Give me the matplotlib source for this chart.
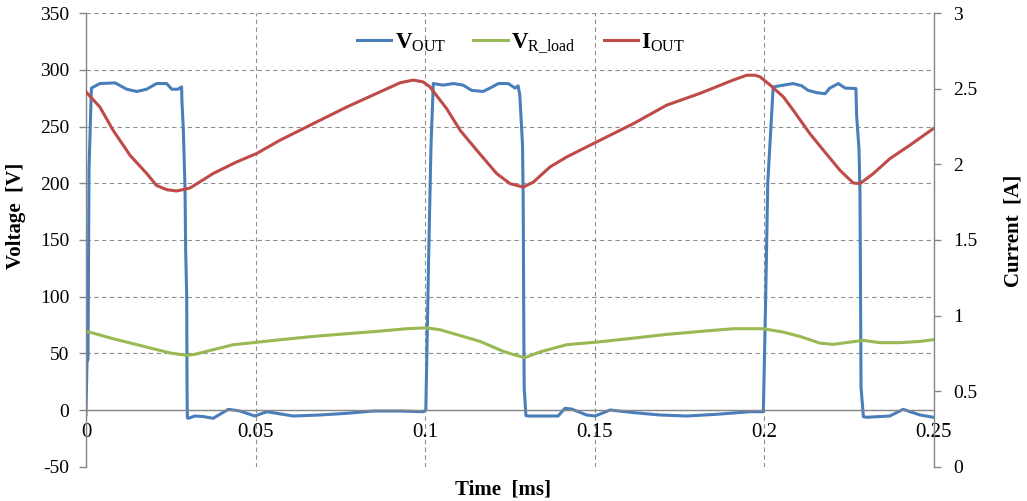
import matplotlib
matplotlib.use('Agg')
import matplotlib.pyplot as plt

# V_OUT trace (ms, V)
t_vout = [0, 0.0003, 0.0006, 0.0009, 0.0016, 0.0041, 0.0086, 0.0120, 0.0150, 0.0179,
          0.0208, 0.0238, 0.0253, 0.0271, 0.0282, 0.0283, 0.0287, 0.0292, 0.0294, 0.0297,
          0.0298, 0.0299, 0.0302, 0.0321, 0.0346, 0.0375, 0.0420, 0.0454, 0.0498, 0.0533,
          0.0611, 0.0690, 0.0769, 0.0847, 0.0926, 0.0994, 0.1002, 0.1010, 0.1017, 0.1024,
          0.1053, 0.1083, 0.1112, 0.1137, 0.1171, 0.1191, 0.1216, 0.1245, 0.1265, 0.1274,
          0.1279, 0.1287, 0.1289, 0.1291, 0.1292, 0.1294, 0.1297, 0.1304, 0.1392, 0.1412,
          0.1432, 0.1476, 0.1501, 0.1545, 0.1614, 0.1692, 0.1771, 0.1859, 0.1958, 0.1997,
          0.2004, 0.2010, 0.2026, 0.2056, 0.2085, 0.2110, 0.2129, 0.2154, 0.2179, 0.2193,
          0.2218, 0.2238, 0.2270, 0.2272, 0.2279, 0.2282, 0.2285, 0.2292, 0.2302, 0.2370,
          0.2409, 0.2459, 0.2498]
v_out = [-4, 42, 45, 212, 284, 288, 288.6, 283, 281, 283,
         288, 288, 283, 283, 285, 272, 248, 196, 140, 100,
         20, -7, -7.3, -5.3, -5.8, -7.3, 0.6, -0.9, -5.3, -1.5,
         -5.3, -4.4, -2.9, -0.9, -0.9, -1.5, 0, 130, 231, 288,
         286.6, 288, 286.6, 282, 281, 284, 288, 288, 284, 286,
         278, 234, 187, 60, 19, 10, -5, -5.3, -5.3, 1.5,
         0.8, -4.4, -5.3, 0, -2.3, -4.4, -5.3, -3.8, -1.5, -1.5,
         100, 200, 285, 286.6, 288, 286, 282, 280, 279, 284,
         288, 284, 283.6, 260, 230, 190, 20, -6, -6.4, -5.3,
         0.6, -4.4, -6.4]

# V_R_load trace (ms, V)
t_vr = [0, 0.0080, 0.0179, 0.0248, 0.0297, 0.0321, 0.0375, 0.0434, 0.0493, 0.0572,
        0.0670, 0.0769, 0.0867, 0.0945, 0.1004, 0.1044, 0.1112, 0.1162, 0.1230, 0.1260,
        0.1294, 0.1338, 0.1417, 0.1506, 0.1614, 0.1712, 0.1810, 0.1908, 0.1997, 0.2056,
        0.2105, 0.2164, 0.2203, 0.2252, 0.2292, 0.2341, 0.2400, 0.2459, 0.2498]
v_rload = [69.6, 62.9, 55.5, 50.3, 48.2, 49.1, 53.2, 57.6, 59.4, 62,
           64.9, 67.3, 69.6, 71.7, 72.5, 70.8, 64.9, 60.5, 51.8, 48.9,
           46.2, 51.2, 57.6, 59.9, 63.4, 66.7, 69.3, 71.7, 71.7, 68.7,
           64.9, 59, 57.9, 59.9, 61.4, 59.4, 59.4, 60.5, 62]

# I_OUT trace (ms, A)
t_iout = [0, 0.0041, 0.0080, 0.0130, 0.0179, 0.0208, 0.0238, 0.0267, 0.0307, 0.0375,
          0.0444, 0.0503, 0.0572, 0.0690, 0.0769, 0.0867, 0.0926, 0.0965, 0.0994, 0.1014,
          0.1063, 0.1103, 0.1152, 0.1211, 0.1250, 0.1289, 0.1319, 0.1368, 0.1417, 0.1496,
          0.1614, 0.1712, 0.1810, 0.1908, 0.1948, 0.1972, 0.1987, 0.2017, 0.2056, 0.2085,
          0.2134, 0.2174, 0.2223, 0.2262, 0.2282, 0.2321, 0.2370, 0.2429, 0.2498]
i_out = [2.48, 2.38, 2.226, 2.06, 1.94, 1.861, 1.833, 1.824, 1.844, 1.94,
         2.016, 2.072, 2.16, 2.292, 2.38, 2.48, 2.54, 2.558, 2.546, 2.513,
         2.37, 2.226, 2.094, 1.939, 1.873, 1.85, 1.883, 1.983, 2.049, 2.138,
         2.27, 2.392, 2.47, 2.558, 2.59, 2.59, 2.58, 2.525, 2.447, 2.359,
         2.204, 2.094, 1.961, 1.877, 1.873, 1.939, 2.038, 2.127, 2.237]

x_ticks = [0, 0.05, 0.1, 0.15, 0.2, 0.25]
x_labels = ['0', '0.05', '0.1', '0.15', '0.2', '0.25']
v_ticks = list(range(-50, 351, 50))
i_ticks = [0, 0.5, 1, 1.5, 2, 2.5, 3]
i_labels = ['0', '0.5', '1', '1.5', '2', '2.5', '3']

plt.rcParams['font.family'] = 'Liberation Serif'
plt.rcParams['axes.unicode_minus'] = False
plt.rcParams['mathtext.fontset'] = 'custom'
plt.rcParams['mathtext.rm'] = 'Liberation Serif'
plt.rcParams['mathtext.bf'] = 'Liberation Serif:bold'

axis_grey = '#868686'
grid_grey = '#8f8f8f'

fig = plt.figure(figsize=(10.27, 5.01), dpi=100)
ax = fig.add_axes([0.0837, 0.0685, 0.8257, 0.905])
ax2 = ax.twinx()

l1, = ax.plot(t_vout, v_out, color='#4a7ebb', lw=2.2, label=r'$\mathbf{V}_{\mathrm{OUT}}$')
l2, = ax.plot(t_vr, v_rload, color='#98b954', lw=2.2, label=r'$\mathbf{V}_{\mathrm{R\_load}}$')
l3, = ax2.plot(t_iout, i_out, color='#be4b48', lw=2.2, label=r'$\mathbf{I}_{\mathrm{OUT}}$')

ax.set_xlim(0, 0.25)
ax.set_ylim(-50, 350)
ax2.set_ylim(0, 3)

ax.set_xticks(x_ticks)
ax.set_xticklabels(x_labels)
ax.set_yticks(v_ticks)
ax2.set_yticks(i_ticks)
ax2.set_yticklabels(i_labels)

ax.grid(True, color=grid_grey, linestyle=(0, (4, 3)), lw=0.8)
ax.set_axisbelow(True)

for a in (ax, ax2):
    a.spines['top'].set_visible(False)
    for s in ('left', 'right', 'bottom'):
        a.spines[s].set_color(axis_grey)
        a.spines[s].set_linewidth(1.0)
ax.spines['bottom'].set_position(('data', 0))
ax.spines['right'].set_visible(False)
ax2.spines['bottom'].set_visible(False)
ax2.spines['left'].set_visible(False)

ax.tick_params(axis='x', length=0, pad=9, labelsize=15, colors='black')
ax.tick_params(axis='y', length=5, width=1, color=axis_grey, pad=7, labelsize=14)
ax2.tick_params(axis='y', length=5, width=1, color=axis_grey, pad=9, labelsize=14)

fig.text(0.016, 0.57, 'Voltage  [V]', rotation=90, fontsize=15, fontweight='bold',
         ha='center', va='center')
fig.text(0.987, 0.54, 'Current  [A]', rotation=90, fontsize=15, fontweight='bold',
         ha='center', va='center')
fig.text(0.49, 0.022, 'Time  [ms]', fontsize=15, fontweight='bold', ha='center', va='center')

ax.legend(handles=[l1, l2, l3], loc='center', bbox_to_anchor=(0.513, 0.934), ncol=3,
          frameon=False, fontsize=16.5, handlelength=1.5, handletextpad=0.15,
          columnspacing=1.2)

fig.savefig('out.png', dpi=100)
